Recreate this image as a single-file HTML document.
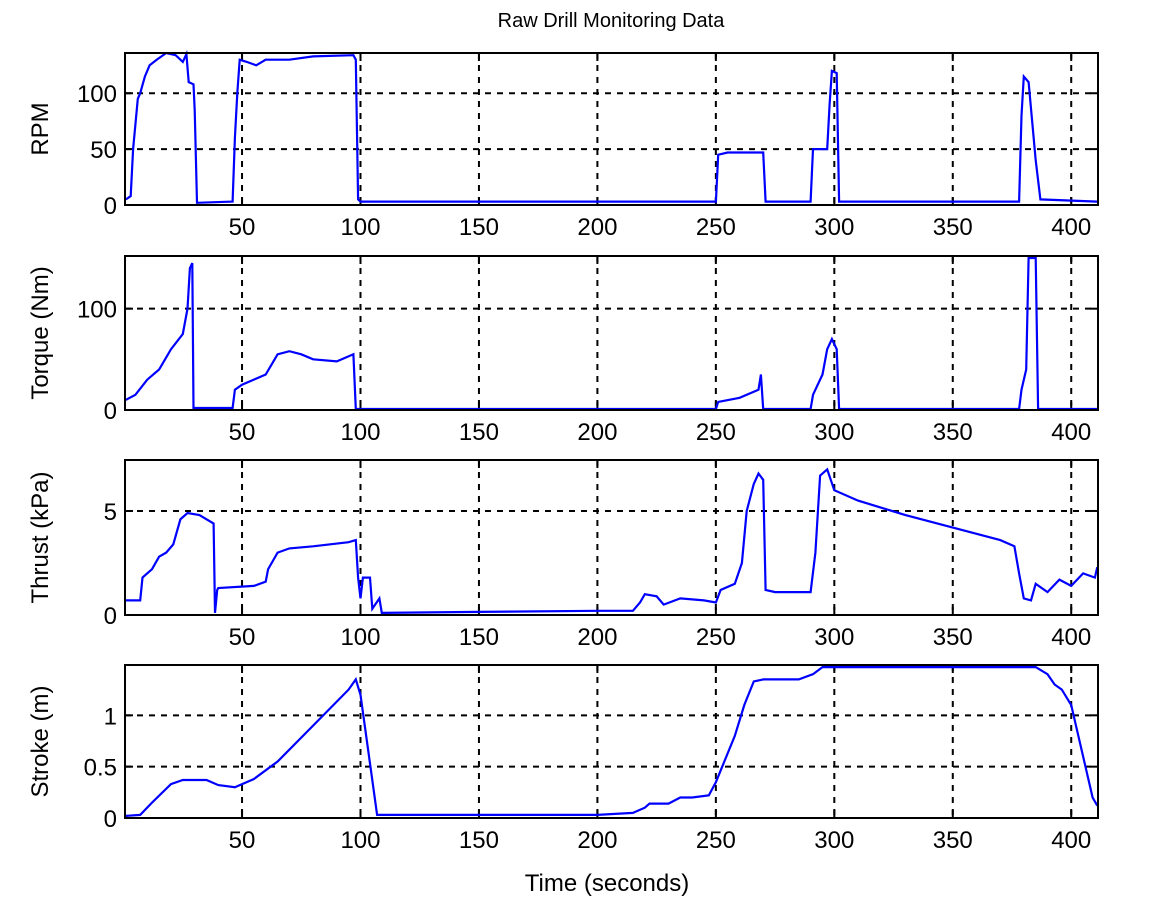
<!DOCTYPE html>
<html><head><meta charset="utf-8"><style>
body{margin:0;background:#fff;}
svg{display:block;font-family:"Liberation Sans",sans-serif;}
</style></head><body>
<svg id="chart" width="1159" height="903" viewBox="0 0 1159 903">
<text x="611" y="27" font-size="20" text-anchor="middle">Raw Drill Monitoring Data</text>
<text x="607" y="891" font-size="24" text-anchor="middle">Time (seconds)</text>
</svg>
<script>
const xTicks=[50,100,150,200,250,300,350,400];
const rpmT=[1,3,4,6,7,9,11,14,18,22,25,26.5,27.5,29.5,30,31,46,47,48,49,52,56,60,70,80,97,98,99,100,250,251,255,270,271,290,291,297,298,299,301,302,378,379,380,382,385,387,411];
const rpmV=[5,8,50,95,100,115,125,130,136,134,128,135,110,108,85,2,3,60,100,130,128,125,130,130,133,134,130,5,3,3,45,47,47,3,3,50,50,90,120,118,3,3,80,115,110,40,5,3];
const torqueT=[1,5,10,15,20,25,27,28,29,29.5,46,47,50,55,60,65,70,75,80,90,97,98,250,251,260,268,269,270,290,291,295,297,299,301,302,378,379,381,382,385,386,411];
const torqueV=[10,15,30,40,60,75,100,140,145,2,2,20,25,30,35,55,58,55,50,48,55,1,1,8,12,20,35,1,1,15,35,60,70,60,1,1,20,40,150,150,1,1];
const thrustT=[1,7,8,12,15,18,21,24,27,32,38,38.6,39.5,40,55,60,61,65,70,80,95,98,99,100,101,104,105,108,109,150,200,215,218,220,225,228,235,245,250,252,258,261,263,266,268,270,271,275,290,292,294,297,300,310,330,370,376,378,380,383,385,390,395,400,405,410,411];
const thrustV=[0.7,0.7,1.8,2.2,2.8,3.0,3.4,4.6,4.9,4.8,4.4,0.1,1.2,1.3,1.4,1.6,2.2,3.0,3.2,3.3,3.5,3.6,1.8,0.8,1.8,1.8,0.3,0.8,0.1,0.15,0.2,0.2,0.6,1.0,0.9,0.5,0.8,0.7,0.6,1.2,1.5,2.5,5.0,6.3,6.8,6.5,1.2,1.1,1.1,3.0,6.7,7.0,6.0,5.5,4.8,3.6,3.3,2.0,0.8,0.7,1.5,1.1,1.7,1.4,2.0,1.8,2.3];
const strokeT=[1,7,12,20,25,35,40,47,55,65,80,95,98,100,103,107,200,215,220,222,230,235,240,247,250,258,262,266,270,285,291,295,385,390,393,396,400,405,409,411];
const strokeV=[0.02,0.03,0.15,0.33,0.37,0.37,0.32,0.3,0.38,0.55,0.9,1.25,1.35,1.2,0.7,0.03,0.03,0.05,0.1,0.14,0.14,0.2,0.2,0.22,0.35,0.8,1.1,1.33,1.35,1.35,1.4,1.47,1.47,1.4,1.3,1.25,1.1,0.6,0.2,0.12];

const svg=document.getElementById('chart');
const NS='http://www.w3.org/2000/svg';
const L=125,R=1098,xmin=0.6,xmax=411.3;
const X=v=>L+(v-xmin)/(xmax-xmin)*(R-L);
function mk(tag,attrs,parent){const e=document.createElementNS(NS,tag);for(const k in attrs)e.setAttribute(k,attrs[k]);(parent||svg).appendChild(e);return e;}
const panels=[
 {name:'rpm',label:'RPM',top:53,bot:205,ymax:136,ticks:[0,50,100],T:rpmT,V:rpmV},
 {name:'torque',label:'Torque (Nm)',top:256,bot:410,ymax:152,ticks:[0,100],T:torqueT,V:torqueV},
 {name:'thrust',label:'Thrust (kPa)',top:460,bot:615,ymax:7.45,ticks:[0,5],T:thrustT,V:thrustV},
 {name:'stroke',label:'Stroke (m)',top:665,bot:818,ymax:1.49,ticks:[0,0.5,1],T:strokeT,V:strokeV}
];
panels.forEach(p=>{
 const g=mk('g',{});
 
 
 const Y=v=>p.bot-v/p.ymax*(p.bot-p.top);
 xTicks.forEach(t=>{
  const l=mk('line',{x1:X(t),x2:X(t),y1:p.top,y2:p.bot,stroke:'#000','stroke-width':2,'stroke-dasharray':'6,6'},g);
  
  
  mk('line',{x1:X(t),x2:X(t),y1:p.bot,y2:p.bot-8,stroke:'#000','stroke-width':2},g);
  mk('line',{x1:X(t),x2:X(t),y1:p.top,y2:p.top+8,stroke:'#000','stroke-width':2},g);
  const tx=mk('text',{x:X(t),y:p.bot+30,'font-size':24,'text-anchor':'middle'},g);
  tx.textContent=t;
  
  
 });
 p.ticks.forEach(t=>{
  if(t>0){const l=mk('line',{x1:L,x2:R,y1:Y(t),y2:Y(t),stroke:'#000','stroke-width':2,'stroke-dasharray':'6,6'},g);
   
   }
  mk('line',{x1:L,x2:L+8,y1:Y(t),y2:Y(t),stroke:'#000','stroke-width':2},g);
  mk('line',{x1:R,x2:R-8,y1:Y(t),y2:Y(t),stroke:'#000','stroke-width':2},g);
  const tx=mk('text',{x:L-8,y:Y(t)+9,'font-size':24,'text-anchor':'end'},g);
  tx.textContent=t;
  
  
 });
 let d='';p.T.forEach((t,i)=>{d+=(i?'L':'M')+X(t).toFixed(1)+','+Y(p.V[i]).toFixed(1);});
 const line=mk('path',{d:d,fill:'none',stroke:'#0000ff','stroke-width':2.2},g);
 
 
 const box=mk('rect',{x:L,y:p.top,width:R-L,height:p.bot-p.top,fill:'none',stroke:'#000','stroke-width':2},g);
 
 
 const cy=(p.top+p.bot)/2;
 const yl=mk('text',{x:48,y:cy,'font-size':24,'text-anchor':'middle',transform:'rotate(-90 48 '+cy+')'},g);
 yl.textContent=p.label;
 
 
});
</script>
</body></html>
